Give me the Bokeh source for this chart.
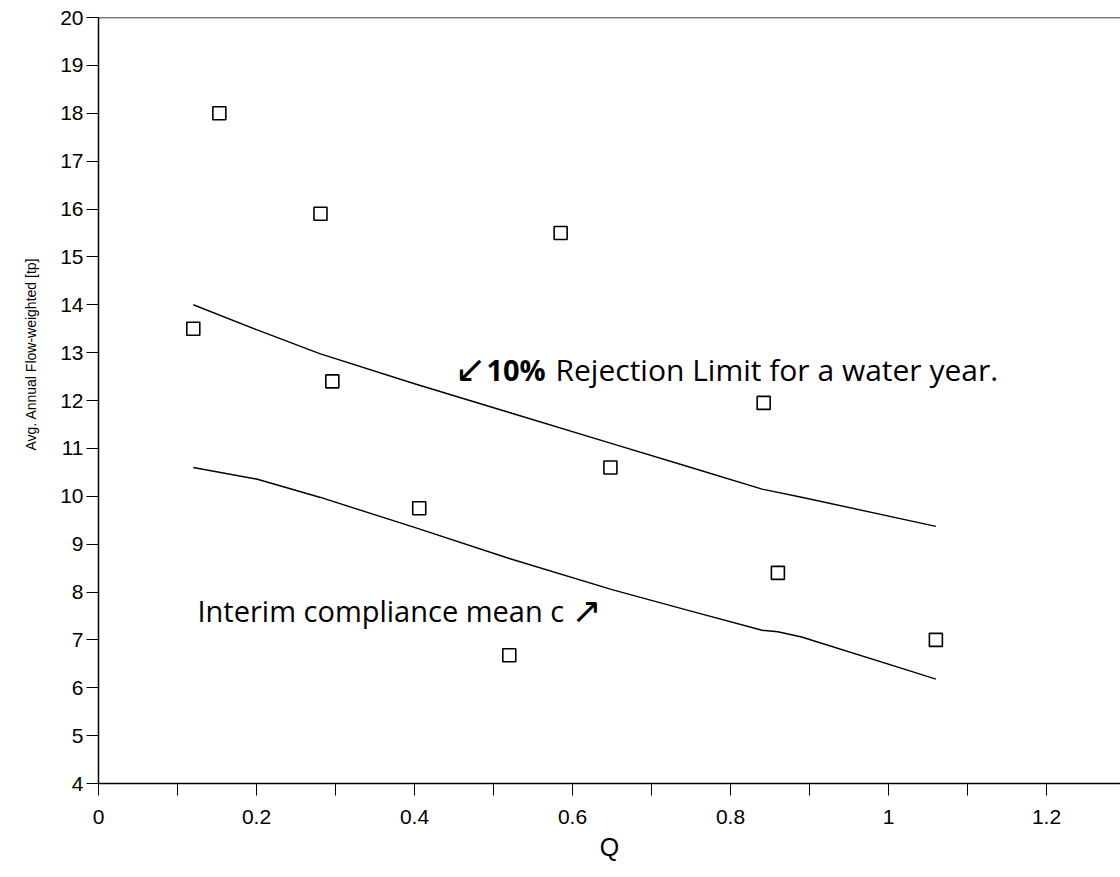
from bokeh.plotting import figure
from bokeh.models import FixedTicker, Label, Span, Title
from bokeh.embed import file_html
from bokeh.resources import INLINE

# Observed points
q_obs = [0.12, 0.153, 0.281, 0.296, 0.406, 0.52, 0.585, 0.648, 0.842, 0.86, 1.06]
tp_obs = [13.5, 18.0, 15.9, 12.4, 9.75, 6.68, 15.5, 10.6, 11.95, 8.4, 7.0]

# 10% rejection limit curve
rej_q = [0.12, 0.2, 0.28, 0.4, 0.52, 0.65, 0.75, 0.84, 0.89, 1.06]
rej_tp = [14.0, 13.48, 12.98, 12.35, 11.75, 11.1, 10.6, 10.15, 9.98, 9.37]

# Interim compliance mean curve
mean_q = [0.12, 0.2, 0.28, 0.4, 0.52, 0.65, 0.75, 0.84, 0.86, 0.89, 1.02, 1.06]
mean_tp = [10.6, 10.36, 9.98, 9.35, 8.7, 8.05, 7.6, 7.2, 7.17, 7.06, 6.39, 6.18]

x_major = [0, 0.2, 0.4, 0.6, 0.8, 1, 1.2]
x_minor = [0.1, 0.3, 0.5, 0.7, 0.9, 1.1]
y_ticks = list(range(4, 21))

p = figure(width=1120, height=877, output_backend="svg", toolbar_location=None,
           x_range=(0, 1.2937), y_range=(4, 20),
           min_border_left=98, min_border_right=0, min_border_top=17, min_border_bottom=94)
p.outline_line_color = None
p.xgrid.visible = False
p.ygrid.visible = False
p.background_fill_color = "white"

ax = p.xaxis[0]
ax.ticker = FixedTicker(ticks=x_major, minor_ticks=x_minor)
ax.major_label_overrides = {0: "0", 1: "1"}
ax.major_tick_out = 12
ax.major_tick_in = 0
ax.minor_tick_out = 12
ax.minor_tick_in = 0
ax.axis_line_width = 1.5
ax.axis_line_color = "black"
ax.major_tick_line_color = "black"
ax.minor_tick_line_color = "black"
ax.major_label_text_color = "black"
ax.major_label_text_font = "Liberation Sans"
ax.major_label_text_font_size = "21px"
ax.major_label_standoff = 14
ax.axis_label = "Q"
ax.axis_label_text_color = "black"
ax.axis_label_text_font = "Liberation Sans"
ax.axis_label_text_font_style = "normal"
ax.axis_label_text_font_size = "25px"
ax.axis_label_standoff = 6

ay = p.yaxis[0]
ay.ticker = FixedTicker(ticks=y_ticks, minor_ticks=[])
ay.major_tick_out = 12
ay.major_tick_in = 0
ay.axis_line_width = 1.5
ay.axis_line_color = "black"
ay.major_tick_line_color = "black"
ay.major_label_text_color = "black"
ay.major_label_text_font = "Liberation Sans"
ay.major_label_text_font_size = "21px"
ay.major_label_standoff = 3

# y axis title, shifted up like in the reference
p.add_layout(Title(text="Avg. Annual Flow-weighted [tp]", align="left", offset=333,
                   text_font="Liberation Sans", text_font_size="14px",
                   text_font_style="normal", text_color="black", standoff=37), "left")

p.add_layout(Span(location=20, dimension="width", line_color="black", line_width=1.5))

p.line(rej_q, rej_tp, line_color="black", line_width=1.4)
p.line(mean_q, mean_tp, line_color="black", line_width=1.4)
p.scatter(q_obs, tp_obs, marker="square", size=13, fill_color=None,
          line_color="black", line_width=1.6)

# annotations
p.add_layout(Label(x=0.451, y=12.65, text="\u2199", text_font="DejaVu Sans",
                   text_font_size="38px", text_baseline="alphabetic", text_color="black"))
p.add_layout(Label(x=0.491, y=12.65, text="10%", text_font="Open Sans",
                   text_font_style="bold", text_font_size="29px",
                   text_baseline="alphabetic", text_color="black"))
p.add_layout(Label(x=0.5785, y=12.65, text="Rejection Limit for a water year.",
                   text_font="Open Sans", text_font_size="30px",
                   text_baseline="alphabetic", text_color="black"))
p.add_layout(Label(x=0.1253, y=7.62, text="Interim compliance mean c",
                   text_font="Open Sans", text_font_size="29px",
                   text_baseline="alphabetic", text_color="black"))
p.add_layout(Label(x=0.599, y=7.62, text="\u2197", text_font="DejaVu Sans",
                   text_font_size="36px", text_baseline="alphabetic", text_color="black"))

open("out.html", "w").write(file_html(p, INLINE))
